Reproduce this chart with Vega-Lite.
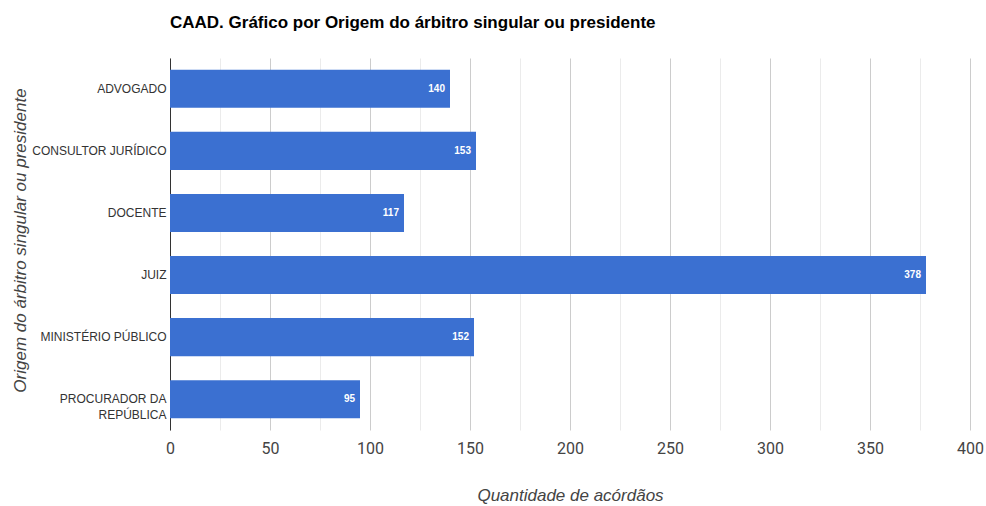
{
  "$schema": "https://vega.github.io/schema/vega-lite/v6.json",
  "width": 800,
  "height": 372,
  "autosize": "none",
  "padding": {"left": 170, "top": 58, "right": 16, "bottom": 76},
  "background": "white",
  "title": {
    "text": "CAAD. Gráfico por Origem do árbitro singular ou presidente",
    "anchor": "start",
    "frame": "group",
    "offset": 26,
    "font": "Liberation Sans",
    "fontSize": 17,
    "fontWeight": "bold",
    "color": "#000000"
  },
  "config": {
    "view": {"stroke": null},
    "axis": {"labelFont": "Roboto", "titleFont": "Liberation Sans"}
  },
  "data": {
    "values": [
      {"origem": "ADVOGADO", "quantidade": 140},
      {"origem": "CONSULTOR JURÍDICO", "quantidade": 153},
      {"origem": "DOCENTE", "quantidade": 117},
      {"origem": "JUIZ", "quantidade": 378},
      {"origem": "MINISTÉRIO PÚBLICO", "quantidade": 152},
      {"origem": "PROCURADOR DA REPÚBLICA", "quantidade": 95}
    ]
  },
  "encoding": {
    "y": {
      "field": "origem",
      "type": "nominal",
      "sort": null,
      "scale": {"paddingInner": 0.387, "paddingOuter": 0.19},
      "axis": {
        "title": "Origem do árbitro singular ou presidente",
        "titleFontStyle": "italic",
        "titleFontWeight": "normal",
        "titleFontSize": 17,
        "titleColor": "#444444",
        "titleX": -150,
        "titleY": 182,
        "titleAlign": "center",
        "titleBaseline": "middle",
        "titleAngle": -90,
        "ticks": false,
        "domain": true,
        "domainColor": "#333333",
        "domainWidth": 1,
        "labelFont": "Liberation Sans",
        "labelFontSize": 12,
        "labelColor": "#333333",
        "labelPadding": 4,
        "labelLimit": 200,
        "labelLineHeight": 16,
        "labelExpr": "datum.label == 'PROCURADOR DA REPÚBLICA' ? ['PROCURADOR DA', 'REPÚBLICA'] : datum.label"
      }
    }
  },
  "layer": [
    {
      "mark": {"type": "bar", "color": "#3b70d1"},
      "encoding": {
        "x": {
          "field": "quantidade",
          "type": "quantitative",
          "scale": {"domain": [0, 400], "nice": false},
          "axis": {
            "title": "Quantidade de acórdãos",
            "titleFontStyle": "italic",
            "titleFontWeight": "normal",
            "titleFontSize": 17,
            "titleColor": "#444444",
            "titlePadding": 31,
            "values": [0, 25, 50, 75, 100, 125, 150, 175, 200, 225, 250, 275, 300, 325, 350, 375, 400],
            "labelExpr": "datum.value % 50 === 0 ? datum.label : ''",
            "labelFontSize": 16,
            "labelColor": "#444444",
            "labelPadding": 10,
            "labelFlush": false,
            "ticks": false,
            "domain": false,
            "grid": true,
            "gridColor": {"condition": {"test": "datum.value % 50 === 0", "value": "#cccccc"}, "value": "#ebebeb"}
          }
        }
      }
    },
    {
      "mark": {"type": "text", "align": "right", "baseline": "middle", "dx": -5, "color": "white", "font": "Liberation Sans", "fontSize": 10, "fontWeight": "bold"},
      "encoding": {
        "x": {"field": "quantidade", "type": "quantitative"},
        "text": {"field": "quantidade", "type": "quantitative"}
      }
    }
  ]
}
